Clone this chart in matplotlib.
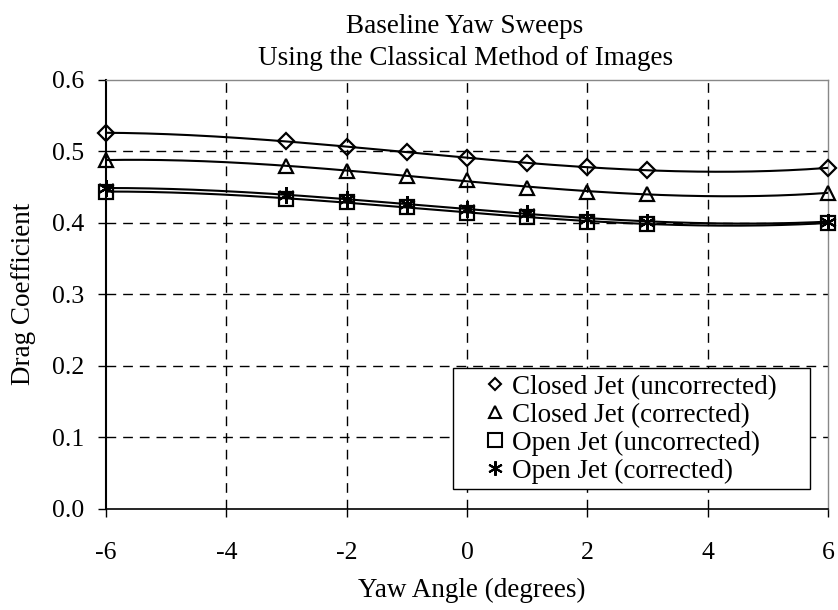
import numpy as np
import matplotlib
matplotlib.use("Agg")
import matplotlib.pyplot as plt
from matplotlib.lines import Line2D
from matplotlib.patches import Rectangle

# Yaw sweep data
yaw = [-6, -3, -2, -1, 0, 1, 2, 3, 6]
closed_uncorr = [0.526, 0.515, 0.506, 0.499, 0.491, 0.484, 0.478, 0.474, 0.477]
closed_corr = [0.488, 0.480, 0.473, 0.466, 0.460, 0.449, 0.444, 0.441, 0.442]
open_uncorr = [0.444, 0.434, 0.429, 0.422, 0.414, 0.409, 0.402, 0.399, 0.400]
open_corr = [0.449, 0.439, 0.433, 0.427, 0.419, 0.414, 0.406, 0.402, 0.402]

labels = ["Closed Jet (uncorrected)", "Closed Jet (corrected)",
          "Open Jet (uncorrected)", "Open Jet (corrected)"]
x_ticks = [-6, -4, -2, 0, 2, 4, 6]
y_ticks = [0.0, 0.1, 0.2, 0.3, 0.4, 0.5, 0.6]

serif = "Liberation Serif"

fig = plt.figure(figsize=(8.38, 6.10), dpi=100)
ax = fig.add_axes([0.1265, 0.1656, 0.8615, 0.7033])

series = [closed_uncorr, closed_corr, open_uncorr, open_corr]
markers = ["D", "^", "s", (6, 2, 0)]
msizes = [7.8, 10.5, 10.5, 12]
leg_sizes = [6.5, 9, 10, 10.5]

xs = np.linspace(-6, 6, 200)
for vals, mk, ms in zip(series, markers, msizes):
    # cubic polynomial trendline through each series
    coef = np.polyfit(yaw, vals, 3)
    ax.plot(xs, np.polyval(coef, xs), color="black", lw=1.5, zorder=3)
    ax.plot(yaw, vals, linestyle="none", marker=mk, markersize=ms,
            markerfacecolor="none", markeredgecolor="black",
            markeredgewidth=1.6, zorder=4, clip_on=False)

ax.set_xlim(-6, 6)
ax.set_ylim(0, 0.6)
ax.set_xticks(x_ticks)
ax.set_yticks(y_ticks)
ax.set_xticklabels([str(t) for t in x_ticks], fontfamily=serif, fontsize=18.5)
ax.set_yticklabels([f"{t:.1f}" for t in y_ticks], fontfamily=serif, fontsize=18.5)
ax.tick_params(axis="both", direction="out", length=6, width=1, color="black")
ax.tick_params(axis="y", pad=9.5)
ax.tick_params(axis="x", pad=18)

for v in x_ticks[1:-1]:
    ax.axvline(v, color="black", lw=1, ls=(0, (7, 5)), zorder=1)
for v in y_ticks[1:-1]:
    ax.axhline(v, color="black", lw=1, ls=(0, (7, 5)), zorder=1)

ax.spines["left"].set_linewidth(1.5)
ax.spines["bottom"].set_linewidth(1.2)
for side in ("top", "right"):
    ax.spines[side].set_color("#888888")
    ax.spines[side].set_linewidth(1.0)

ax.set_xlabel("Yaw Angle (degrees)", fontfamily=serif, fontsize=19.5)
ax.xaxis.label.set_va("center")
ax.xaxis.set_label_coords(0.507, -0.19)
ax.set_ylabel("Drag Coefficient", fontfamily=serif, fontsize=19.5)
ax.yaxis.label.set_va("center")
ax.yaxis.set_label_coords(-0.1136, 0.502)

fig.text(0.555, 0.946, "Baseline Yaw Sweeps", ha="center", va="baseline",
         fontfamily=serif, fontsize=19.5)
fig.text(0.555, 0.893, "Using the Classical Method of Images", ha="center",
         va="baseline", fontfamily=serif, fontsize=19.5)

# legend panel
ax.add_patch(Rectangle((0.4806, 0.0466), 0.4944, 0.2821, transform=ax.transAxes,
                       facecolor="white", edgecolor="black", lw=1.0, zorder=5))
handles = [Line2D([], [], linestyle="none", marker=mk, markersize=ms,
                  markerfacecolor="none", markeredgecolor="black",
                  markeredgewidth=1.5)
           for mk, ms in zip(markers, leg_sizes)]
leg = ax.legend(handles, labels, loc="upper left", bbox_to_anchor=(0.5811, 0.3855),
                bbox_transform=fig.transFigure,
                prop={"family": serif, "size": 19.5}, frameon=False,
                handlelength=0.6, handletextpad=0.33, borderpad=0,
                labelspacing=0.105, borderaxespad=0)
leg.set_zorder(6)

fig.savefig("out.png", dpi=100)
